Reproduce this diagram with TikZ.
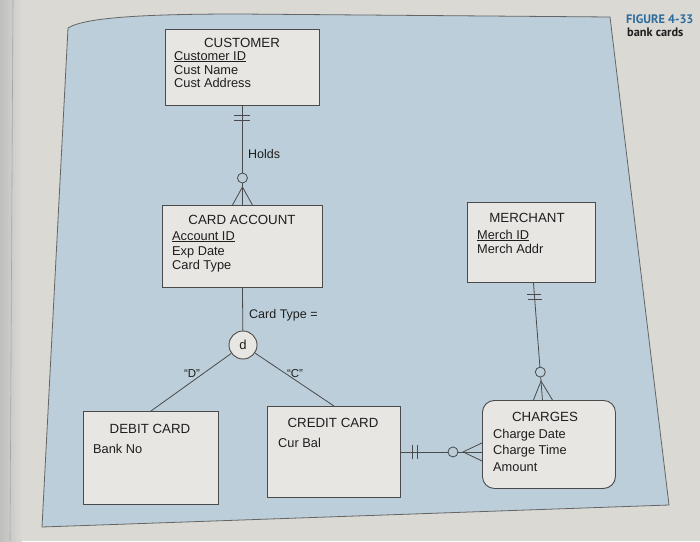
\documentclass[tikz,border=0pt]{standalone}
\usepackage{fontspec}
\setmainfont{Liberation Sans}
\newfontfamily\figfont{PT Sans}
\usetikzlibrary{calc}
\definecolor{pagebg}{HTML}{DAD9D4}
\definecolor{panelbg}{HTML}{BBCED9}
\definecolor{boxbg}{HTML}{E8E6E2}
\definecolor{edgecol}{HTML}{4A4A4A}
\definecolor{figblue}{HTML}{2C6B9C}
\definecolor{inkcol}{HTML}{1E1E1E}
\begin{document}
\begin{tikzpicture}[x=1pt,y=-1pt,
  entity/.style={draw=edgecol, line width=0.9pt, fill=boxbg, inner sep=0pt, anchor=north west},
  etitle/.style={anchor=base, inner sep=0pt, font=\fontsize{13.3}{13.3}\selectfont, text=inkcol},
  eattr/.style={anchor=base west, inner sep=0pt, font=\fontsize{12.8}{12.8}\selectfont, text=inkcol},
  rel/.style={draw=edgecol, line width=0.8pt},
  rlabel/.style={anchor=base west, inner sep=0pt, font=\fontsize{12.5}{12.5}\selectfont, text=inkcol},
  qlabel/.style={anchor=base, inner sep=0pt, font=\fontsize{11.5}{11.5}\selectfont, text=inkcol},
  optcirc/.style={draw=edgecol, line width=0.8pt, fill=panelbg},
  captext/.style={anchor=base west, inner sep=0pt, font=\figfont\bfseries\fontsize{12.3}{12.3}\selectfont}
]
\useasboundingbox (0,0) rectangle (700,541);
% page and panel
\fill[pagebg] (0,0) rectangle (700,541);
\shade[left color=black!25, right color=pagebg] (0,0) rectangle (22,541);
\draw[black!35, line width=0.6pt] (10,541) -- (13,0);
\filldraw[fill=panelbg, draw=edgecol!85, line width=0.8pt]
  (68,28) .. controls (85,17) and (150,14) .. (240,14) -- (610,17) -- (669,505) -- (42,527) -- cycle;

% entities
\node[entity, minimum width=154pt, minimum height=76pt] (cust) at (165,29) {};
\node[entity, minimum width=160pt, minimum height=82pt] (card) at (162,205) {};
\node[entity, minimum width=128pt, minimum height=80pt] (merch) at (467,202) {};
\node[entity, minimum width=135pt, minimum height=93pt] (debit) at (83,411) {};
\node[entity, minimum width=133pt, minimum height=91pt] (cred) at (267,406) {};
\node[entity, minimum width=133pt, minimum height=88pt, rounded corners=12pt] (charg) at (482,400) {};

% entity texts
\node[etitle] (custT) at (242,47) {CUSTOMER};
\node[eattr] (custA1) at (174,60) {\underline{Customer ID}};
\node[eattr] (custA2) at (174,74) {Cust Name};
\node[eattr] (custA3) at (174,87) {Cust Address};

\node[etitle] (cardT) at (242,224) {CARD ACCOUNT};
\node[eattr] (cardA1) at (172,240) {\underline{Account ID}};
\node[eattr] (cardA2) at (172,255) {Exp Date};
\node[eattr] (cardA3) at (172,269) {Card Type};

\node[etitle] (merchT) at (527,222) {MERCHANT};
\node[eattr] (merchA1) at (477,239) {\underline{Merch ID}};
\node[eattr] (merchA2) at (477,253) {Merch Addr};

\node[etitle] (debitT) at (150,433) {DEBIT CARD};
\node[eattr] (debitA1) at (93,453) {Bank No};

\node[etitle] (credT) at (333,427) {CREDIT CARD};
\node[eattr] (credA1) at (278,447) {Cur Bal};

\node[etitle] (chargT) at (545,421) {CHARGES};
\node[eattr] (chargA1) at (493,438) {Charge Date};
\node[eattr] (chargA2) at (493,454) {Charge Time};
\node[eattr] (chargA3) at (493,471) {Amount};

% Customer -- Card Account (Holds)
\draw[rel] (cust.south) -- (card.north);
\draw[rel] ($(cust.south)+(-8,9)$) -- ++(16,0);
\draw[rel] ($(cust.south)+(-8,14)$) -- ++(16,0);
\draw[rel] ($(card.north)+(-10,0)$) -- ($(card.north)+(0,-18)$) -- ($(card.north)+(10,0)$);
\draw[optcirc] ($(card.north)+(0,-27)$) circle (5pt);
\node[rlabel] (holds) at (248,158) {Holds};

% subtype circle
\node[draw=edgecol, line width=0.9pt, fill=boxbg, circle, minimum size=28pt, inner sep=0pt,
      font=\fontsize{13}{13}\selectfont, text=inkcol] (dc) at (243,345) {d};
\draw[rel] (card.south) -- (dc);
\draw[rel] (dc) -- (debit.north);
\draw[rel] (dc) -- (cred.north);
\node[rlabel] (ctype) at (249,318) {Card Type =};
\node[qlabel] (qD) at (192,377) {“D”};
\node[qlabel] (qC) at (295,377) {“C”};

% Merchant -- Charges
\coordinate (m1) at ($(merch.south)+(2,0)$);
\coordinate (c1) at ($(charg.north)+(-6.5,0)$);
\draw[rel] (m1) -- (c1);
\draw[rel] ($($(m1)!12pt!(c1)$)+(-7,0)$) -- ++(14,0);
\draw[rel] ($($(m1)!17pt!(c1)$)+(-7,0)$) -- ++(14,0);
\draw[rel] ($(c1)+(-9,0)$) -- ($(c1)!19pt!(m1)$) -- ($(c1)+(10,0)$);
\draw[optcirc] ($(c1)!28pt!(m1)$) circle (5pt);

% Credit Card -- Charges
\coordinate (c2) at (cred.east -| charg.west);
\draw[rel] (cred.east) -- (c2);
\draw[rel] ($(cred.east)+(11,-7)$) -- ++(0,14);
\draw[rel] ($(cred.east)+(16,-7)$) -- ++(0,14);
\draw[rel] ($(c2)+(0,-9)$) -- ($(c2)+(-19,0)$) -- ($(c2)+(0,9)$);
\draw[optcirc] ($(c2)+(-29,0)$) circle (5pt);

% figure caption
\node[captext, text=figblue] (fig) at (626,23) {FIGURE 4-33};
\node[captext, text=inkcol] (figsub) at (627,36) {bank cards};
\end{tikzpicture}
\end{document}
